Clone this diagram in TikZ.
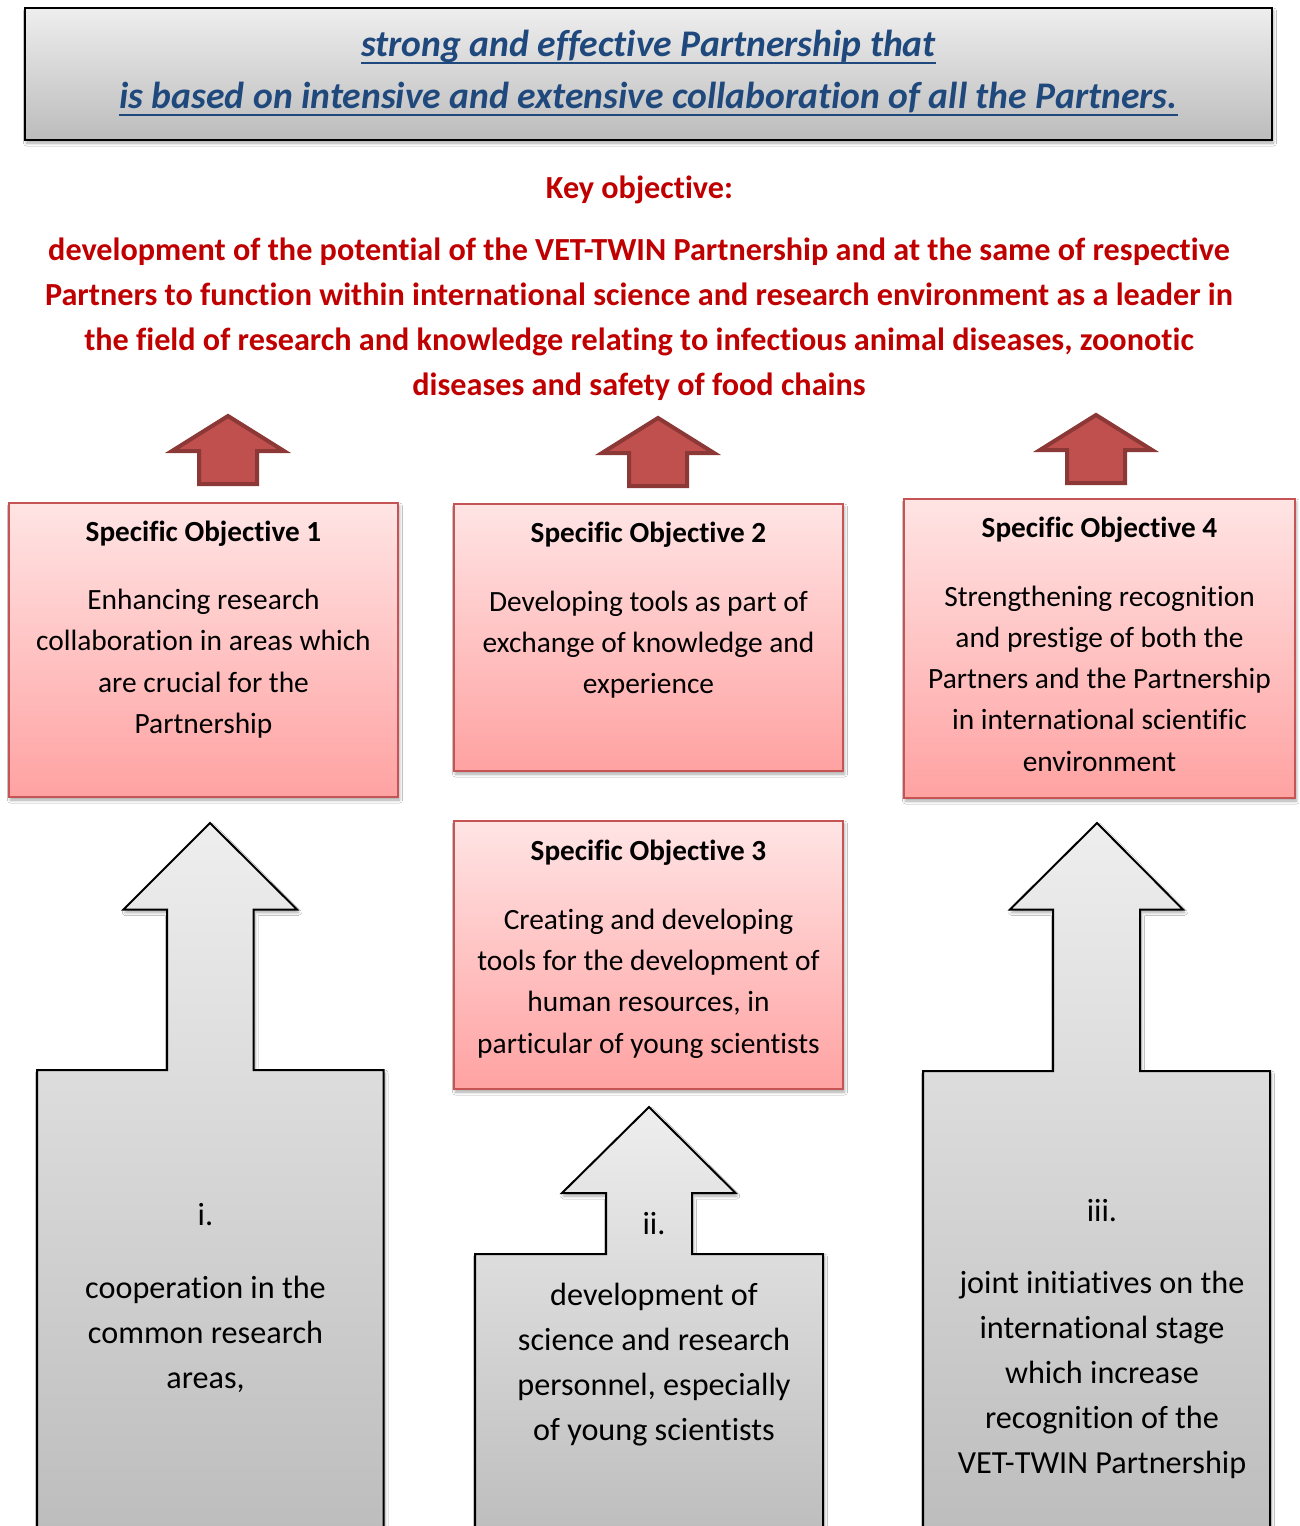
\documentclass[tikz,border=0pt]{standalone}
\usepackage{fontspec}
\setmainfont{Carlito}[Ligatures=NoCommon]
\usetikzlibrary{shadows.blur}
\definecolor{titleblue}{HTML}{1F497D}
\definecolor{keyred}{HTML}{C00000}
\definecolor{arrowred}{HTML}{C0504D}
\definecolor{arrowedge}{HTML}{8C3836}
\definecolor{pinktop}{HTML}{FFE4E4}
\definecolor{pinkbot}{HTML}{FFA2A2}
\definecolor{boxedge}{HTML}{C65454}
\definecolor{graytop}{HTML}{EEEEEE}
\definecolor{graybot}{HTML}{BCBCBC}
\begin{document}
\begin{tikzpicture}[x=1pt,y=-1pt,
  softshadow/.style={blur shadow={shadow xshift=1.5pt, shadow yshift=-3pt, shadow blur radius=3pt, shadow blur steps=6, shadow opacity=35}},
  banner/.style={draw=black, line width=2pt, top color=graytop, bottom color=graybot, inner sep=0pt, softshadow},
  objbox/.style={draw=boxedge, line width=1.5pt, top color=pinktop, bottom color=pinkbot, inner sep=0pt, softshadow},
  redarrow/.style={fill=arrowred, draw=arrowedge, line width=4pt, line join=miter},
  grayarrow/.style={draw=black, line width=2pt, line join=miter, top color=graytop, bottom color=graybot, softshadow},
  titletext/.style={font=\fontsize{37.6}{44}\selectfont\bfseries\itshape, text=titleblue, inner sep=0pt, anchor=base},
  underbar/.style={draw=titleblue, line width=2.6pt},
  keytext/.style={font=\fontsize{32.2}{38}\selectfont\bfseries, text=keyred, inner sep=0pt, anchor=base},
  headtext/.style={font=\fontsize{29.2}{35}\selectfont\bfseries, text=black, inner sep=0pt, anchor=base},
  bodytext/.style={font=\fontsize{29.4}{35}\selectfont, text=black, inner sep=0pt, anchor=base},
  lowtext/.style={font=\fontsize{32.2}{38}\selectfont, text=black, inner sep=0pt, anchor=base}
]
\useasboundingbox (0,0) rectangle (1299,1526);
\clip (0,0) rectangle (1299,1526);
\fill[white] (0,0) rectangle (1299,1526);

% ---------- title banner ----------
\node[banner, minimum width=1247pt, minimum height=132pt] (banner) at (648.5,74) {};
\node[titletext] (title1) at (648.5,56) {strong and effective Partnership that};
\node[titletext] (title2) at (648.5,108) {is based on intensive and extensive collaboration of all the Partners.};
\draw[underbar] ([yshift=-6.8pt]title1.base west) -- ([yshift=-6.8pt]title1.base east);
\draw[underbar] ([yshift=-6.8pt]title2.base west) -- ([yshift=-6.8pt]title2.base east);

% ---------- key objective ----------
\node[keytext] (keyhead) at (639.5,198.5) {Key objective:};
\foreach \t [count=\i] in {
  development of the potential of the VET-TWIN Partnership and at the same of respective,
  Partners to function within international science and research environment as a leader in,
  {the field of research and knowledge relating to infectious animal diseases, zoonotic},
  diseases and safety of food chains}
  \node[keytext] (key\i) at (639,{260+(\i-1)*45}) {\t};

% ---------- red arrows ----------
\filldraw[redarrow] (228,416) -- (284,451) -- (257,451) -- (257,484) -- (199,484) -- (199,451) -- (172,451) -- cycle;
\filldraw[redarrow] (658,418) -- (714,453) -- (687,453) -- (687,486) -- (629,486) -- (629,453) -- (602,453) -- cycle;
\filldraw[redarrow] (1096,415) -- (1152,450) -- (1125,450) -- (1125,483) -- (1067,483) -- (1067,450) -- (1040,450) -- cycle;

% ---------- gray arrows ----------
\path[grayarrow] (210,823) -- (297,909.5) -- (253.5,909.5) -- (253.5,1070) -- (383.5,1070) -- (383.5,1545)
  -- (37,1545) -- (37,1070) -- (167,1070) -- (167,909.5) -- (123.5,909.5) -- cycle;
\path[grayarrow] (649,1107) -- (735.5,1193) -- (692,1193) -- (692,1254) -- (823,1254) -- (823,1545)
  -- (475,1545) -- (475,1254) -- (606,1254) -- (606,1193) -- (562,1193) -- cycle;
\path[grayarrow] (1097,823) -- (1183,909.5) -- (1140,909.5) -- (1140,1071) -- (1270,1071) -- (1270,1545)
  -- (923,1545) -- (923,1071) -- (1053,1071) -- (1053,909.5) -- (1010,909.5) -- cycle;

% ---------- objective boxes ----------
\node[objbox, minimum width=389pt, minimum height=294pt] (so1) at (203.5,650) {};
\node[objbox, minimum width=389pt, minimum height=267pt] (so2) at (648.5,637.5) {};
\node[objbox, minimum width=389pt, minimum height=268pt] (so3) at (648.5,955) {};
\node[objbox, minimum width=391pt, minimum height=299pt] (so4) at (1099.5,648.5) {};

\node[headtext] (so1h) at (203.5,541.5) {Specific Objective 1};
\foreach \t [count=\i] in {Enhancing research, collaboration in areas which, are crucial for the, Partnership}
  \node[bodytext] (so1l\i) at (203.5,{609.5+(\i-1)*41.4}) {\t};

\node[headtext] (so2h) at (648.5,542.5) {Specific Objective 2};
\foreach \t [count=\i] in {Developing tools as part of, exchange of knowledge and, experience}
  \node[bodytext] (so2l\i) at (648.5,{611+(\i-1)*41.3}) {\t};

\node[headtext] (so3h) at (648.5,860.5) {Specific Objective 3};
\foreach \t [count=\i] in {Creating and developing, tools for the development of, {human resources, in}, particular of young scientists}
  \node[bodytext] (so3l\i) at (648.5,{929.5+(\i-1)*41.2}) {\t};

\node[headtext] (so4h) at (1099.5,537.5) {Specific Objective 4};
\foreach \t [count=\i] in {Strengthening recognition, and prestige of both the, Partners and the Partnership, in international scientific, environment}
  \node[bodytext] (so4l\i) at (1099.5,{606+(\i-1)*41.3}) {\t};

% ---------- texts in gray arrows ----------
\node[lowtext] (lowAh) at (205.5,1225.5) {i.};
\foreach \t [count=\i] in {cooperation in the, common research, {areas,}}
  \node[lowtext] (lowA\i) at (205.5,{1298+(\i-1)*45}) {\t};

\node[lowtext] (lowBh) at (654,1234) {ii.};
\foreach \t [count=\i] in {development of, science and research, {personnel, especially}, of young scientists}
  \node[lowtext] (lowB\i) at (654,{1305+(\i-1)*45}) {\t};

\node[lowtext] (lowCh) at (1102,1221) {iii.};
\foreach \t [count=\i] in {joint initiatives on the, international stage, which increase, recognition of the, VET-TWIN Partnership}
  \node[lowtext] (lowC\i) at (1102,{1293+(\i-1)*45}) {\t};
\end{tikzpicture}
\end{document}
